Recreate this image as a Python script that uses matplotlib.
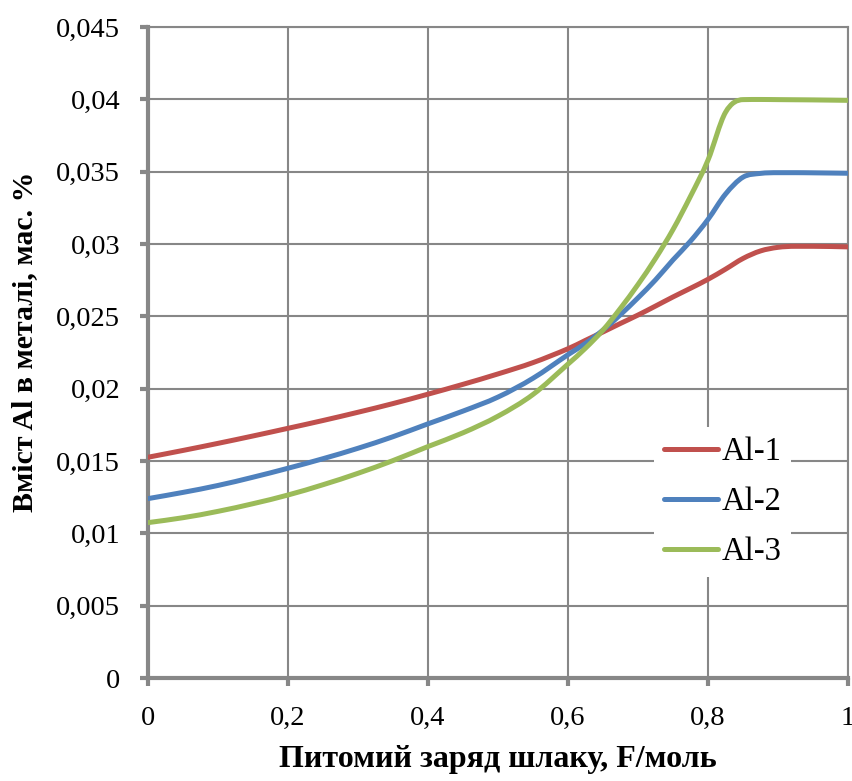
import matplotlib
matplotlib.use("Agg")
import matplotlib.pyplot as plt
from matplotlib.path import Path
from matplotlib.patches import PathPatch
from matplotlib.lines import Line2D
from matplotlib.ticker import FixedLocator, FuncFormatter

plt.rcParams['font.family'] = ['Liberation Serif', 'DejaVu Serif']

# Specific slag charge, F/mol
charge = [0.0, 0.05, 0.1, 0.15, 0.2, 0.25, 0.3, 0.35, 0.4, 0.45, 0.5, 0.55, 0.6,
          0.625, 0.65, 0.675, 0.7, 0.725, 0.75, 0.775, 0.8, 0.825, 0.85, 0.875,
          0.9, 0.925, 0.95, 1.0]

# Al content in metal, wt.%
al_1 = [0.01526, 0.01573, 0.01622, 0.01673, 0.01726, 0.0178, 0.01837, 0.01897,
        0.01962, 0.0203, 0.02102, 0.0218, 0.02276,
        0.02334, 0.02392, 0.02451, 0.02509, 0.02571, 0.02634, 0.02694, 0.02756,
        0.02826, 0.029, 0.02952, 0.02977, 0.02984, 0.02984, 0.0298]
al_2 = [0.0124, 0.01283, 0.01331, 0.01388, 0.0145, 0.01516, 0.01588, 0.01668,
        0.01757, 0.01845, 0.01942, 0.02072, 0.02235,
        0.02313, 0.02405, 0.02512, 0.02628, 0.02752, 0.0289, 0.0302, 0.0317,
        0.03345, 0.03462, 0.03488, 0.03493, 0.03493, 0.03492, 0.03489]
al_3 = [0.01074, 0.01108, 0.01152, 0.01205, 0.01265, 0.01336, 0.01415, 0.01503,
        0.016, 0.01695, 0.0181, 0.0196, 0.0217,
        0.0228, 0.02405, 0.02556, 0.0272, 0.029, 0.031, 0.0333, 0.0358,
        0.0391, 0.03998, 0.03999, 0.03998, 0.03997, 0.03996, 0.03993]

series_names = ['Al-1', 'Al-2', 'Al-3']
series_colors = ['#C0504D', '#4F81BD', '#9BBB59']

x_ticks = [0, 0.2, 0.4, 0.6, 0.8, 1.0]
y_ticks = [0, 0.005, 0.01, 0.015, 0.02, 0.025, 0.03, 0.035, 0.04, 0.045]

x_title = 'Питомий заряд шлаку, F/моль'
y_title = 'Вміст Al в металі, мас. %'


def comma_fmt(v, _pos):
    s = f'{v:.3f}'.rstrip('0').rstrip('.')
    return s.replace('.', ',')


def smooth_path(xs, ys):
    """Smoothed cubic Bezier path through the points, limited so it never
    overshoots a flat stretch."""
    n = len(xs)
    h = [xs[i + 1] - xs[i] for i in range(n - 1)]
    d = [(ys[i + 1] - ys[i]) / h[i] for i in range(n - 1)]
    m = [0.0] * n
    m[0], m[-1] = d[0], d[-1]
    for i in range(1, n - 1):
        if d[i - 1] * d[i] > 0:
            c = (ys[i + 1] - ys[i - 1]) / (xs[i + 1] - xs[i - 1])
            lim = 3 * min(abs(d[i - 1]), abs(d[i]))
            m[i] = max(-lim, min(lim, c))
    verts = [(xs[0], ys[0])]
    codes = [Path.MOVETO]
    for i in range(n - 1):
        c1 = (xs[i] + h[i] / 3, ys[i] + m[i] * h[i] / 3)
        c2 = (xs[i + 1] - h[i] / 3, ys[i + 1] - m[i + 1] * h[i] / 3)
        verts += [c1, c2, (xs[i + 1], ys[i + 1])]
        codes += [Path.CURVE4] * 3
    return Path(verts, codes)


fig = plt.figure(figsize=(8.53, 7.81), dpi=100)
ax = fig.add_axes([148 / 853, 1 - 678 / 781, 700 / 853, 651 / 781])

grid_color = '#878787'
line_w = 3.6
handles = []
for name, vals, col in zip(series_names, [al_1, al_2, al_3], series_colors):
    patch = PathPatch(smooth_path(charge, vals), facecolor='none', edgecolor=col,
                      lw=line_w, capstyle='round', joinstyle='round', zorder=3)
    ax.add_patch(patch)
    handles.append(Line2D([], [], color=col, lw=line_w, solid_capstyle='round',
                          label=name))

ax.set_xlim(0, 1)
ax.set_ylim(0, 0.045)
ax.xaxis.set_major_locator(FixedLocator(x_ticks))
ax.yaxis.set_major_locator(FixedLocator(y_ticks))
ax.xaxis.set_major_formatter(FuncFormatter(comma_fmt))
ax.yaxis.set_major_formatter(FuncFormatter(comma_fmt))

ax.grid(True, color=grid_color, lw=1.5, zorder=1)
ax.set_axisbelow(True)

for side in ['top', 'right']:
    ax.spines[side].set_color(grid_color)
    ax.spines[side].set_linewidth(1.5)
for side in ['left', 'bottom']:
    ax.spines[side].set_color(grid_color)
    ax.spines[side].set_linewidth(3)

ax.tick_params(axis='both', direction='out', length=6, width=3,
               color=grid_color, labelsize=20.5, pad=14)

ax.set_xlabel(x_title, fontsize=23, fontweight='bold', labelpad=10)
ax.set_ylabel(y_title, fontsize=21.5, fontweight='bold', labelpad=13, y=0.517)

leg = ax.legend(handles=handles, loc='upper left',
                bbox_to_anchor=(654 / 853, 1 - 427 / 781),
                bbox_transform=fig.transFigure, fontsize=23.5,
                frameon=True, fancybox=False, handlelength=1.65,
                handletextpad=0.12, labelspacing=0.6, borderpad=0.3,
                borderaxespad=0)
leg.get_frame().set_facecolor('white')
leg.get_frame().set_edgecolor('none')
leg.get_frame().set_alpha(1)
leg.set_zorder(5)

fig.savefig('out.png', dpi=100)
